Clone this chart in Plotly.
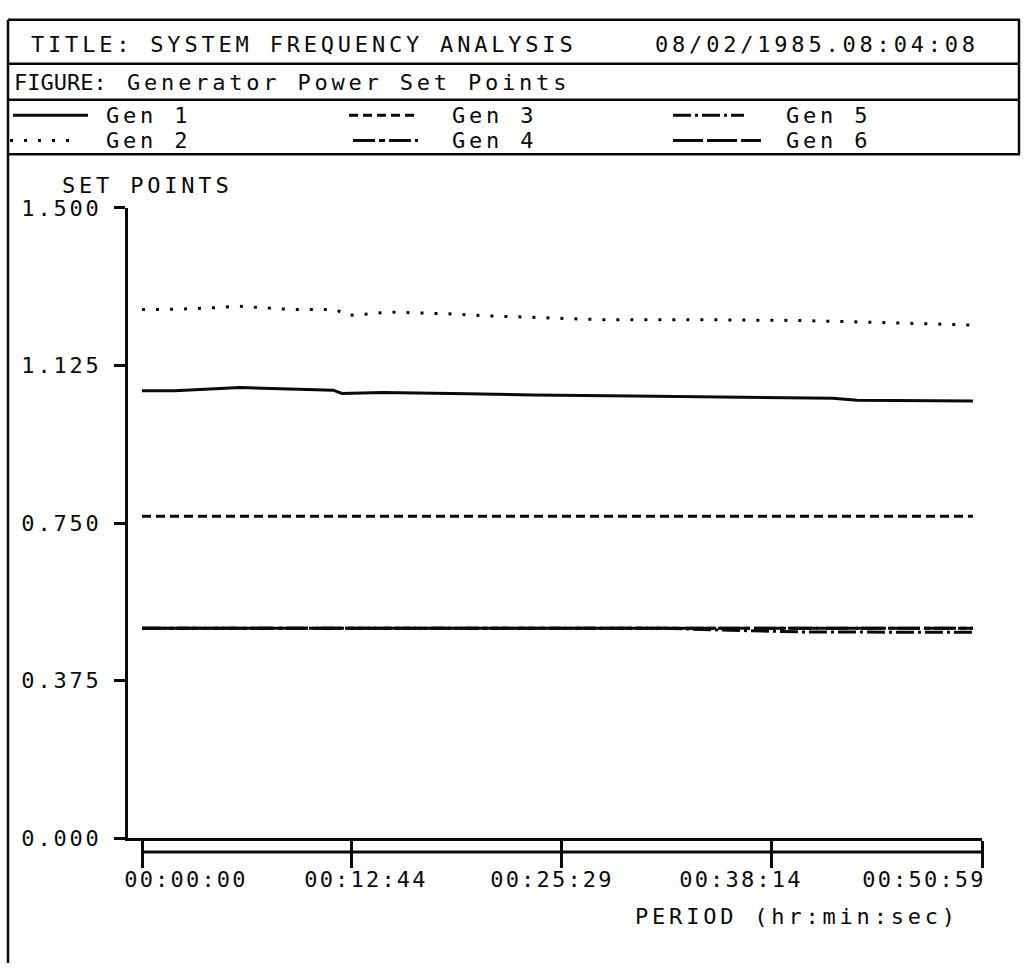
import plotly.graph_objects as go

W, H = 1024, 976

# elapsed time (s) and generator set points (p.u.)
t_gen1 = [0, 120, 357, 600, 696, 728, 878, 1184, 1304, 1424, 1788, 2152, 2516, 2604, 3026]
gen1 = [1.0646, 1.0650, 1.0723, 1.0675, 1.0662, 1.0584, 1.0607, 1.0577, 1.0560, 1.0546,
        1.0523, 1.0500, 1.0467, 1.0421, 1.0407]

t_gen2 = [0, 140, 251, 350, 448, 550, 703, 754, 907, 1111, 1264, 1468, 1668, 2032, 2396, 2760, 3026]
gen2 = [1.258, 1.259, 1.262, 1.266, 1.262, 1.258, 1.258, 1.244, 1.252, 1.248, 1.243, 1.238,
        1.234, 1.234, 1.232, 1.226, 1.221]

t_gen3 = [0, 3026]
gen3 = [0.766, 0.766]

t_gen4 = [0, 3026]
gen4 = [0.500, 0.500]

t_gen5 = [0, 1886, 2140, 2396, 3026]
gen5 = [0.500, 0.500, 0.495, 0.491, 0.490]

t_gen6 = [0, 3026]
gen6 = [0.500, 0.500]

x_ticks = [0, 764, 1529, 2294, 3059]
x_tick_labels = ["00:00:00", "00:12:44", "00:25:29", "00:38:14", "00:50:59"]
y_ticks = [0.0, 0.375, 0.75, 1.125, 1.5]
y_tick_labels = ["0.000", "0.375", "0.750", "1.125", "1.500"]

series = [
    ("Gen 1", t_gen1, gen1, "solid"),
    ("Gen 2", t_gen2, gen2, "3px,11px"),
    ("Gen 3", t_gen3, gen3, "9px,5px"),
    ("Gen 4", t_gen4, gen4, "22px,4px,6px,4px"),
    ("Gen 5", t_gen5, gen5, "18px,4px,3px,4px"),
    ("Gen 6", t_gen6, gen6, "30px,4px"),
]

INK = "#0a0a0a"
FONT = dict(family="DejaVu Sans Mono", size=22, color=INK)
LW = 3


def px(x):
    return x / W


def py(y):
    return 1 - y / H


fig = go.Figure()
for name, t, v, dash in series:
    fig.add_trace(go.Scatter(x=t, y=v, mode="lines", name=name,
                             line=dict(color=INK, width=LW, dash=dash)))

# plot geometry (pixels)
AX_L = 128            # vertical axis
X0_PX, X1_PX = 142, 982   # first / last time tick
AX_B, AX_T = 848, 201
sec_per_px = (x_ticks[-1] - x_ticks[0]) / (X1_PX - X0_PX)
x_lo = -(X0_PX - AX_L) * sec_per_px

fig.update_layout(
    width=W, height=H, margin=dict(l=0, r=0, t=0, b=0),
    paper_bgcolor="white", plot_bgcolor="white", showlegend=False,
    xaxis=dict(domain=[px(AX_L), px(X1_PX)], range=[x_lo, x_ticks[-1]],
               showgrid=False, zeroline=False, showline=True, linecolor=INK, linewidth=LW,
               tickmode="array", tickvals=x_ticks, ticks="outside", ticklen=27,
               tickwidth=LW, tickcolor=INK, showticklabels=False),
    yaxis=dict(domain=[py(AX_B), py(AX_T)], range=[0, 1.5],
               showgrid=False, zeroline=False, showline=True, linecolor=INK, linewidth=LW,
               tickmode="array", tickvals=y_ticks, ticktext=y_tick_labels,
               ticks="outside", ticklen=11, tickwidth=LW, tickcolor=INK,
               ticklabelstandoff=8, tickfont=FONT),
    yaxis2=dict(overlaying="y", anchor="x", side="left", range=[0, 1.5],
                showgrid=False, zeroline=False, showline=False,
                tickmode="array", tickvals=y_ticks, ticks="inside", ticklen=12,
                tickwidth=LW, tickcolor=INK, showticklabels=False),
)

shapes = []


def hline(y, x0, x1, width=2.5):
    shapes.append(dict(type="line", xref="paper", yref="paper", x0=px(x0), x1=px(x1),
                       y0=py(y), y1=py(y), line=dict(color=INK, width=width)))


def vline(x, y0, y1, width=2.5):
    shapes.append(dict(type="line", xref="paper", yref="paper", x0=px(x), x1=px(x),
                       y0=py(y0), y1=py(y1), line=dict(color=INK, width=width)))


# header frame
hline(8, 8, 1020)
hline(53, 8, 1020)
hline(90, 8, 1020)
hline(146, 8, 1020)
vline(8, 8, 976)
vline(1019, 8, 146)

# second time-axis rule under the zero line
shapes.append(dict(type="line", xref="x", yref="paper", x0=x_ticks[0], x1=x_ticks[-1],
                   y0=py(862), y1=py(862), line=dict(color=INK, width=LW)))

# legend samples
legend_pos = {
    "Gen 1": (13, 88, 106), "Gen 2": (10, 69, 132),
    "Gen 3": (349, 418, 106), "Gen 4": (353, 418, 132),
    "Gen 5": (673, 744, 106), "Gen 6": (673, 761, 132),
}
legend_text_x = {"Gen 1": 104, "Gen 2": 104, "Gen 3": 450, "Gen 4": 450,
                 "Gen 5": 784, "Gen 6": 784}
annotations = []
for name, t, v, dash in series:
    x0, x1, y = legend_pos[name]
    shapes.append(dict(type="line", xref="paper", yref="paper", x0=px(x0), x1=px(x1),
                       y0=py(y), y1=py(y), line=dict(color=INK, width=LW, dash=dash)))
    annotations.append(dict(text=name, x=px(legend_text_x[name]), y=py(y)))


def label(text, x, y, anchor="left"):
    annotations.append(dict(text=text, x=px(x), y=py(y), xanchor=anchor,
                            align="left" if anchor == "left" else "center"))


label("TITLE: SYSTEM FREQUENCY ANALYSIS", 29, 33)
label("08/02/1985.08:04:08", 653, 33)
label("FIGURE:", 12, 72)
label("Generator Power Set Points", 125, 72)
label("SET POINTS", 60, 178)
label("PERIOD (hr:min:sec)", 633, 928)
for txt, cx in zip(x_tick_labels, [186, 366, 552, 741, 924]):
    label(txt, cx, 890, anchor="center")

fig.update_layout(
    shapes=shapes,
    annotations=[dict(dict(xanchor="left", align="left"), **a, xref="paper", yref="paper",
                      yanchor="middle", showarrow=False, font=FONT) for a in annotations],
)

# plotter-style wide character pitch
spacing_js = """
var gd = document.getElementById('{plot_id}');
gd.querySelectorAll('.annotation-text').forEach(function (t) {
  var s = t.textContent;
  var ls = '3.8px';
  if (/^\\d\\d:\\d\\d:\\d\\d$/.test(s)) ls = '2.2px';
  if (s === 'FIGURE:') ls = '0px';
  t.style.letterSpacing = ls;
});
gd.querySelectorAll('.ytick text').forEach(function (t) { t.style.letterSpacing = '2.8px'; });
"""
fig.write_html("out.html", post_script=spacing_js)
